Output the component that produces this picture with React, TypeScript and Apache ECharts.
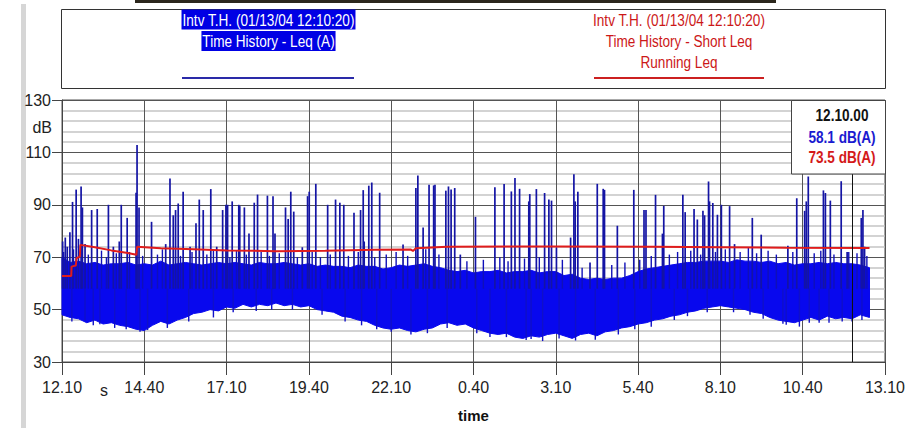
import React, { useEffect, useRef } from "react";
import * as echarts from "echarts";

// ---- data ----
const xTickLabels = ["12.10", "14.40", "17.10", "19.40", "22.10", "0.40", "3.10", "5.40", "8.10", "10.40", "13.10"];
const yTickLabels = ["30", "50", "70", "90", "110", "130"];

// body of the Leq trace (dense band), time in hours from 12:10
const bodyT = [0, 0.25, 0.5, 0.75, 1, 1.25, 1.5, 1.75, 2, 2.25, 2.5, 2.75, 3, 3.25, 3.5, 3.75, 4, 4.25, 4.5, 4.75, 5, 5.25, 5.5, 5.75, 6, 6.25, 6.5, 6.75, 7, 7.25, 7.5, 7.75, 8, 8.25, 8.5, 8.75, 9, 9.25, 9.5, 9.75, 10, 10.25, 10.5, 10.75, 11, 11.25, 11.5, 11.75, 12, 12.25, 12.5, 12.75, 13, 13.25, 13.5, 13.75, 14, 14.25, 14.5, 14.75, 15, 15.25, 15.5, 15.75, 16, 16.25, 16.5, 16.75, 17, 17.25, 17.5, 17.75, 18, 18.25, 18.5, 18.75, 19, 19.25, 19.5, 19.75, 20, 20.25, 20.5, 20.75, 21, 21.25, 21.5, 21.75, 22, 22.25, 22.5, 22.75, 23, 23.25, 23.5, 23.75, 24, 24.25, 24.53];
const bodyLo = [48, 47, 46.5, 45, 46, 44.5, 45, 44, 43.5, 42.5, 42, 44, 45.5, 44.5, 46, 47, 48.5, 49, 50, 49.5, 51, 50.5, 52, 51, 52, 51.5, 52.5, 51.5, 52, 51, 51.5, 50, 49.5, 49, 47.5, 47, 46, 45.5, 44, 43, 42.5, 43, 42, 41.5, 42.5, 43, 44.5, 45, 44, 44.5, 43, 42, 41, 40.5, 41, 39.5, 39, 40, 39.5, 40.5, 41, 40, 39, 40.5, 41, 40, 41.5, 42, 43, 43.5, 44.5, 45, 46, 46.5, 47.5, 48, 49, 49.5, 50.5, 51, 51.5, 51, 50.5, 50, 49, 48.5, 47, 46, 45.5, 45, 46, 47, 46, 47.5, 46.5, 47, 46.5, 48, 47];
const bodyHi = [70, 68, 68.5, 67.5, 68, 67, 67.5, 67.5, 68, 67, 67.5, 67, 68.5, 67, 67.5, 68, 67.5, 67, 67.5, 68, 67.5, 68, 67.5, 67, 68, 67.5, 67.5, 68, 67.5, 67, 67.5, 66.5, 67, 66.5, 66.5, 66, 67, 66.5, 66.5, 65.5, 66, 67, 66.5, 67, 67.5, 66.5, 66, 65, 64.5, 65, 64, 64.5, 64.5, 65, 64, 64.5, 64.5, 65, 64, 64.5, 64.5, 63, 63.5, 62, 61.5, 62, 61.5, 62, 62, 63, 64.5, 65.5, 66, 66.5, 67, 67.5, 68, 68, 68.5, 68.5, 68.5, 68, 69, 68.5, 68.5, 68, 68.5, 67.5, 68, 67, 67.5, 67.5, 68, 67.5, 68, 67.5, 67.5, 67, 66];

// spikes of the Leq trace: [time h, peak dB]
const spikesUp = [
  [0.02, 76], [0.1, 77.5], [0.16, 74], [0.24, 79.5], [0.32, 91.1], [0.43, 95.8], [0.5, 77], [0.58, 97], [0.62, 89], [0.7, 75],
  [0.9, 88], [1.07, 88.4], [1.41, 90], [1.56, 74], [1.74, 76], [1.8, 90], [1.98, 85], [2.25, 94.6], [2.28, 112.8], [2.34, 89],
  [2.72, 83.5], [3.15, 75], [3.28, 100], [3.38, 86], [3.45, 88], [3.53, 90.5], [3.68, 95], [3.89, 74], [4.07, 83], [4.17, 92],
  [4.29, 88], [4.52, 96], [4.7, 74], [4.88, 88], [4.98, 90], [5.03, 90], [5.17, 91.3], [5.37, 90], [5.4, 89.5], [5.54, 89],
  [5.68, 79], [5.84, 90.8], [5.94, 93.9], [6.24, 93.5], [6.41, 93.3], [6.47, 79], [6.79, 89], [6.87, 84.6], [6.95, 95], [7.04, 87.4],
  [7.3, 73.8], [7.46, 93.3], [7.51, 95], [7.71, 98], [8.07, 90], [8.31, 92], [8.44, 90.8], [8.56, 90], [8.87, 87], [9.07, 88],
  [9.15, 95.6], [9.18, 76], [9.32, 97.3], [9.41, 98.5], [9.65, 94.6], [10.36, 74.8], [10.75, 96.4], [10.81, 101.2], [10.97, 81.3], [11.15, 97.7],
  [11.29, 97.4], [11.33, 97.7], [11.66, 95.4], [11.74, 97], [11.82, 95.8], [11.93, 96.4], [12.1, 71], [12.56, 85.4], [13.15, 96.7], [13.43, 97.9],
  [13.65, 95.1], [13.76, 100.2], [13.9, 96.1], [14.18, 91.3], [14.21, 94.1], [14.41, 96], [14.66, 94.5], [14.79, 92], [14.87, 91.6], [15.02, 73.7],
  [15.45, 77.5], [15.55, 101.7], [15.59, 91.3], [15.67, 95], [16.04, 68], [16.26, 98], [16.44, 96.1], [16.48, 95.7], [16.87, 82], [17.37, 95.7],
  [17.68, 88], [17.74, 88], [18.03, 93.8], [18.24, 79], [18.28, 89.6], [18.86, 93.8], [18.93, 87.2], [19.2, 88.4], [19.3, 84.4], [19.47, 87.7],
  [19.52, 86], [19.64, 98.9], [19.67, 91.3], [19.77, 90.7], [19.91, 86.2], [20.03, 90], [20.28, 89.5], [20.43, 75], [20.97, 85], [21.24, 78.6],
  [22.05, 74.4], [22.32, 92.5], [22.56, 87.7], [22.61, 91.3], [22.67, 100.8], [23.13, 95.5], [23.19, 94.5], [23.34, 91.6], [23.67, 99], [23.85, 72],
  [24.28, 85], [24.33, 88], [24.38, 74]
];
// short hairs on the top edge of the band
const hairsTop = [
  [0.05, 72], [0.35, 73], [0.8, 71], [1.2, 72.5], [1.35, 70], [1.65, 71.5], [2.05, 72], [2.45, 70.5], [2.9, 71], [3.05, 73],
  [3.6, 70.5], [3.95, 72], [4.4, 71], [4.6, 73], [5.1, 70], [5.3, 72.5], [5.6, 71], [6.05, 72], [6.3, 70.5], [6.6, 71.5],
  [7.15, 70], [7.6, 72], [7.85, 70], [8.15, 71], [8.7, 70.5], [9.0, 72], [9.5, 70], [9.85, 71], [10.15, 72], [10.5, 70.5],
  [11.05, 73], [11.45, 71], [12.3, 68.5], [12.8, 69], [13.3, 70], [13.55, 68.5], [14.05, 69.5], [14.5, 70], [15.2, 69], [15.8, 66],
  [16.7, 67], [17.1, 68], [17.55, 69], [17.9, 70.5], [18.45, 71], [18.7, 72], [19.1, 72.5], [19.4, 71], [19.85, 72], [20.15, 73],
  [20.6, 72], [20.85, 73.5], [21.1, 71.5], [21.45, 72.5], [21.7, 71], [22.2, 72], [22.85, 71.5], [23.05, 72.5], [23.45, 71], [23.9, 72],
  [24.15, 71.5], [24.45, 70.5]
];
// short hairs on the bottom edge of the band
const spikesDown = [
  [0.3, 45.5], [0.7, 45.7], [0.95, 44], [1.15, 44.4], [1.6, 43], [1.95, 42.5], [2.37, 41.5], [2.6, 42.2], [3.2, 43], [3.85, 45.5],
  [4.6, 47], [5.2, 49], [5.9, 49.5], [6.37, 50], [7.0, 50], [7.9, 48], [8.6, 45.5], [9.1, 44], [9.56, 42.5], [10.0, 41.5],
  [10.6, 40.5], [11.1, 41], [11.7, 43], [12.6, 41], [13.0, 39.5], [13.5, 39.5], [14.1, 38.4], [14.25, 38.8], [14.6, 38], [15.1, 39],
  [15.6, 38.2], [16.2, 38.5], [16.9, 40.5], [17.4, 42.5], [17.9, 43.5], [18.6, 46], [19.0, 47.5], [19.6, 49], [20.4, 49], [20.9, 48],
  [21.3, 46.5], [21.9, 44.6], [22.0, 44.2], [22.4, 43.5], [22.7, 45], [23.0, 45], [23.3, 45], [23.7, 45.5], [24.0, 45.5], [24.3, 46]
];

// running Leq (red)
const runT = [0, 0.28, 0.29, 0.42, 0.44, 0.54, 0.56, 1, 1.5, 2, 2.26, 2.28, 3, 4, 5, 6.5, 8, 9.5, 10.6, 10.66, 10.75, 11.7, 15, 18, 20, 22, 24.53];
const runLeq = [62.8, 62.8, 66.4, 66.8, 69.6, 70.2, 74.7, 73.8, 72.6, 71.6, 70.9, 74.0, 73.4, 73.0, 72.6, 72.3, 72.5, 72.8, 72.9, 72.4, 73.4, 74.0, 74.1, 74.0, 73.8, 73.6, 73.5];

const cursorT = 24.0;
const cursorTime = "12.10.00";
const cursorLeq = "58.1 dB(A)";
const cursorRun = "73.5 dB(A)";

const FONT = '"Liberation Sans", Arial, sans-serif';
const BODY_BLUE = "#0808ee";
const SPIKE_BLUE = "#1414a4";
const RED = "#e01c1c";
const SX = 0.8;

export default function App() {
  const ref = useRef<HTMLDivElement>(null);
  useEffect(() => {
    if (!ref.current) return;
    const chart = echarts.init(ref.current, null, { renderer: "svg" });
    const spikeBase = 58;
    const makeSpike = (width: number, color: string) => (params: any, api: any) => {
      const t = api.value(0);
      const v = api.value(1);
      const a = api.coord([t, spikeBase]);
      const b = api.coord([t, v]);
      return {
        type: "line",
        shape: { x1: a[0], y1: a[1], x2: b[0], y2: b[1] },
        style: { stroke: color, lineWidth: width },
      };
    };
    const narrowText = (x: number, y: number, text: string, fill: string, size: number, bold = false, extra: any = {}) => ({
      type: "text",
      z: 101,
      x,
      y,
      scaleX: SX,
      style: { text, fill, font: `${bold ? "bold " : ""}${size}px ${FONT}`, align: "center", verticalAlign: "middle", ...extra },
    });
    const option: any = {
      animation: false,
      backgroundColor: "#ffffff",
      grid: { left: 62, right: 22, top: 100, bottom: 63, show: true, borderColor: "#555", borderWidth: 1, backgroundColor: "transparent" },
      xAxis: {
        type: "value",
        min: 0,
        max: 25,
        interval: 2.5,
        name: "time",
        nameLocation: "middle",
        nameGap: 46,
        nameTextStyle: { fontFamily: FONT, fontWeight: "bold", fontSize: 15, color: "#111" },
        axisLine: { show: true, lineStyle: { color: "#444", width: 1 } },
        axisTick: { show: true, length: 13, lineStyle: { color: "#444" } },
        axisLabel: {
          margin: 17,
          fontSize: 16,
          fontFamily: FONT,
          color: "#222",
          formatter: (v: number) => xTickLabels[Math.round(v / 2.5)] ?? "",
        },
        splitLine: { show: true, lineStyle: { color: "#555", width: 1 } },
      },
      yAxis: {
        type: "value",
        min: 30,
        max: 130,
        interval: 20,
        axisLine: { show: true, lineStyle: { color: "#444", width: 1 } },
        axisTick: { show: true, length: 10, lineStyle: { color: "#444" } },
        minorTick: { show: false, splitNumber: 5 },
        minorSplitLine: { show: true, lineStyle: { color: "#c4c4c4", width: 1.5 } },
        axisLabel: {
          margin: 11,
          fontSize: 16,
          fontFamily: FONT,
          color: "#222",
          formatter: (v: number) => (yTickLabels.includes(String(v)) ? String(v) : ""),
        },
        splitLine: { show: true, lineStyle: { color: "#555", width: 1 } },
      },
      series: [
        {
          type: "custom",
          name: "body",
          z: 2,
          data: [[bodyT[0], bodyLo[0]]],
          renderItem: (params: any, api: any) => {
            const pts: number[][] = [];
            for (let i = 0; i < bodyT.length; i++) pts.push(api.coord([bodyT[i], bodyHi[i]]));
            for (let i = bodyT.length - 1; i >= 0; i--) pts.push(api.coord([bodyT[i], bodyLo[i]]));
            return { type: "polygon", shape: { points: pts }, style: { fill: BODY_BLUE, stroke: BODY_BLUE, lineWidth: 1 } };
          },
        },
        { type: "custom", name: "hairsDown", z: 3, data: spikesDown, renderItem: makeSpike(1.4, "#1010c8") },
        { type: "custom", name: "hairsTop", z: 3, data: hairsTop, renderItem: makeSpike(1.4, "#1010b8") },
        {
          type: "custom",
          name: "spikesUp",
          z: 3,
          data: spikesUp,
          renderItem: makeSpike(1.7, SPIKE_BLUE),
          markLine: {
            silent: true,
            symbol: ["none", "none"],
            label: { show: false },
            lineStyle: { color: "#111", type: "solid", width: 1 },
            data: [{ xAxis: cursorT }],
          },
        },
        {
          type: "line",
          name: "running",
          z: 4,
          data: runT.map((t, i) => [t, runLeq[i]]),
          showSymbol: false,
          lineStyle: { color: RED, width: 2 },
        },
      ],
      graphic: [
        { type: "rect", z: -10, shape: { x: 21, y: 4, width: 5, height: 424 }, style: { fill: "#d6d6d6" } },
        { type: "rect", z: 100, shape: { x: 135, y: 0, width: 641, height: 3 }, style: { fill: "#2b261c" } },
        { type: "rect", z: 100, shape: { x: 61.5, y: 9.5, width: 824, height: 79 }, style: { fill: "#fff", stroke: "#333", lineWidth: 1 } },
        narrowText(268.5, 19.5, "Intv T.H. (01/13/04 12:10:20)", "#fff", 17, false, { backgroundColor: "#0000e4", padding: [2, 1, 1, 1] }),
        narrowText(268.5, 41, "Time History - Leq (A)", "#fff", 17, false, { backgroundColor: "#0000e4", padding: [2, 1, 1, 1] }),
        { type: "line", z: 101, shape: { x1: 182, y1: 78, x2: 354, y2: 78 }, style: { stroke: "#2a2aa8", lineWidth: 2 } },
        narrowText(679, 19.5, "Intv T.H. (01/13/04 12:10:20)", "#cc1818", 17),
        narrowText(679, 41, "Time History - Short Leq", "#cc1818", 17),
        narrowText(679, 62, "Running Leq", "#cc1818", 17),
        { type: "line", z: 101, shape: { x1: 594, y1: 78, x2: 764, y2: 78 }, style: { stroke: "#cc2020", lineWidth: 2 } },
        { type: "text", z: 101, x: 52, y: 127, style: { text: "dB", fill: "#222", font: `16px ${FONT}`, align: "right", verticalAlign: "middle" } },
        { type: "text", z: 101, x: 104, y: 390, style: { text: "s", fill: "#222", font: `16px ${FONT}`, align: "center", verticalAlign: "middle" } },
        { type: "rect", z: 100, shape: { x: 791.5, y: 100.5, width: 94, height: 73.5 }, style: { fill: "#fff", stroke: "#444", lineWidth: 1 } },
        narrowText(842, 115, cursorTime, "#111", 17, true),
        narrowText(842, 136.5, cursorLeq, "#1a1ad0", 17, true),
        narrowText(842, 157, cursorRun, "#d41a1a", 17, true),
      ],
    };
    chart.setOption(option);
    return () => chart.dispose();
  }, []);
  return <div ref={ref} style={{ position: "fixed", left: 0, top: 0, width: 908, height: 428 }} />;
}
